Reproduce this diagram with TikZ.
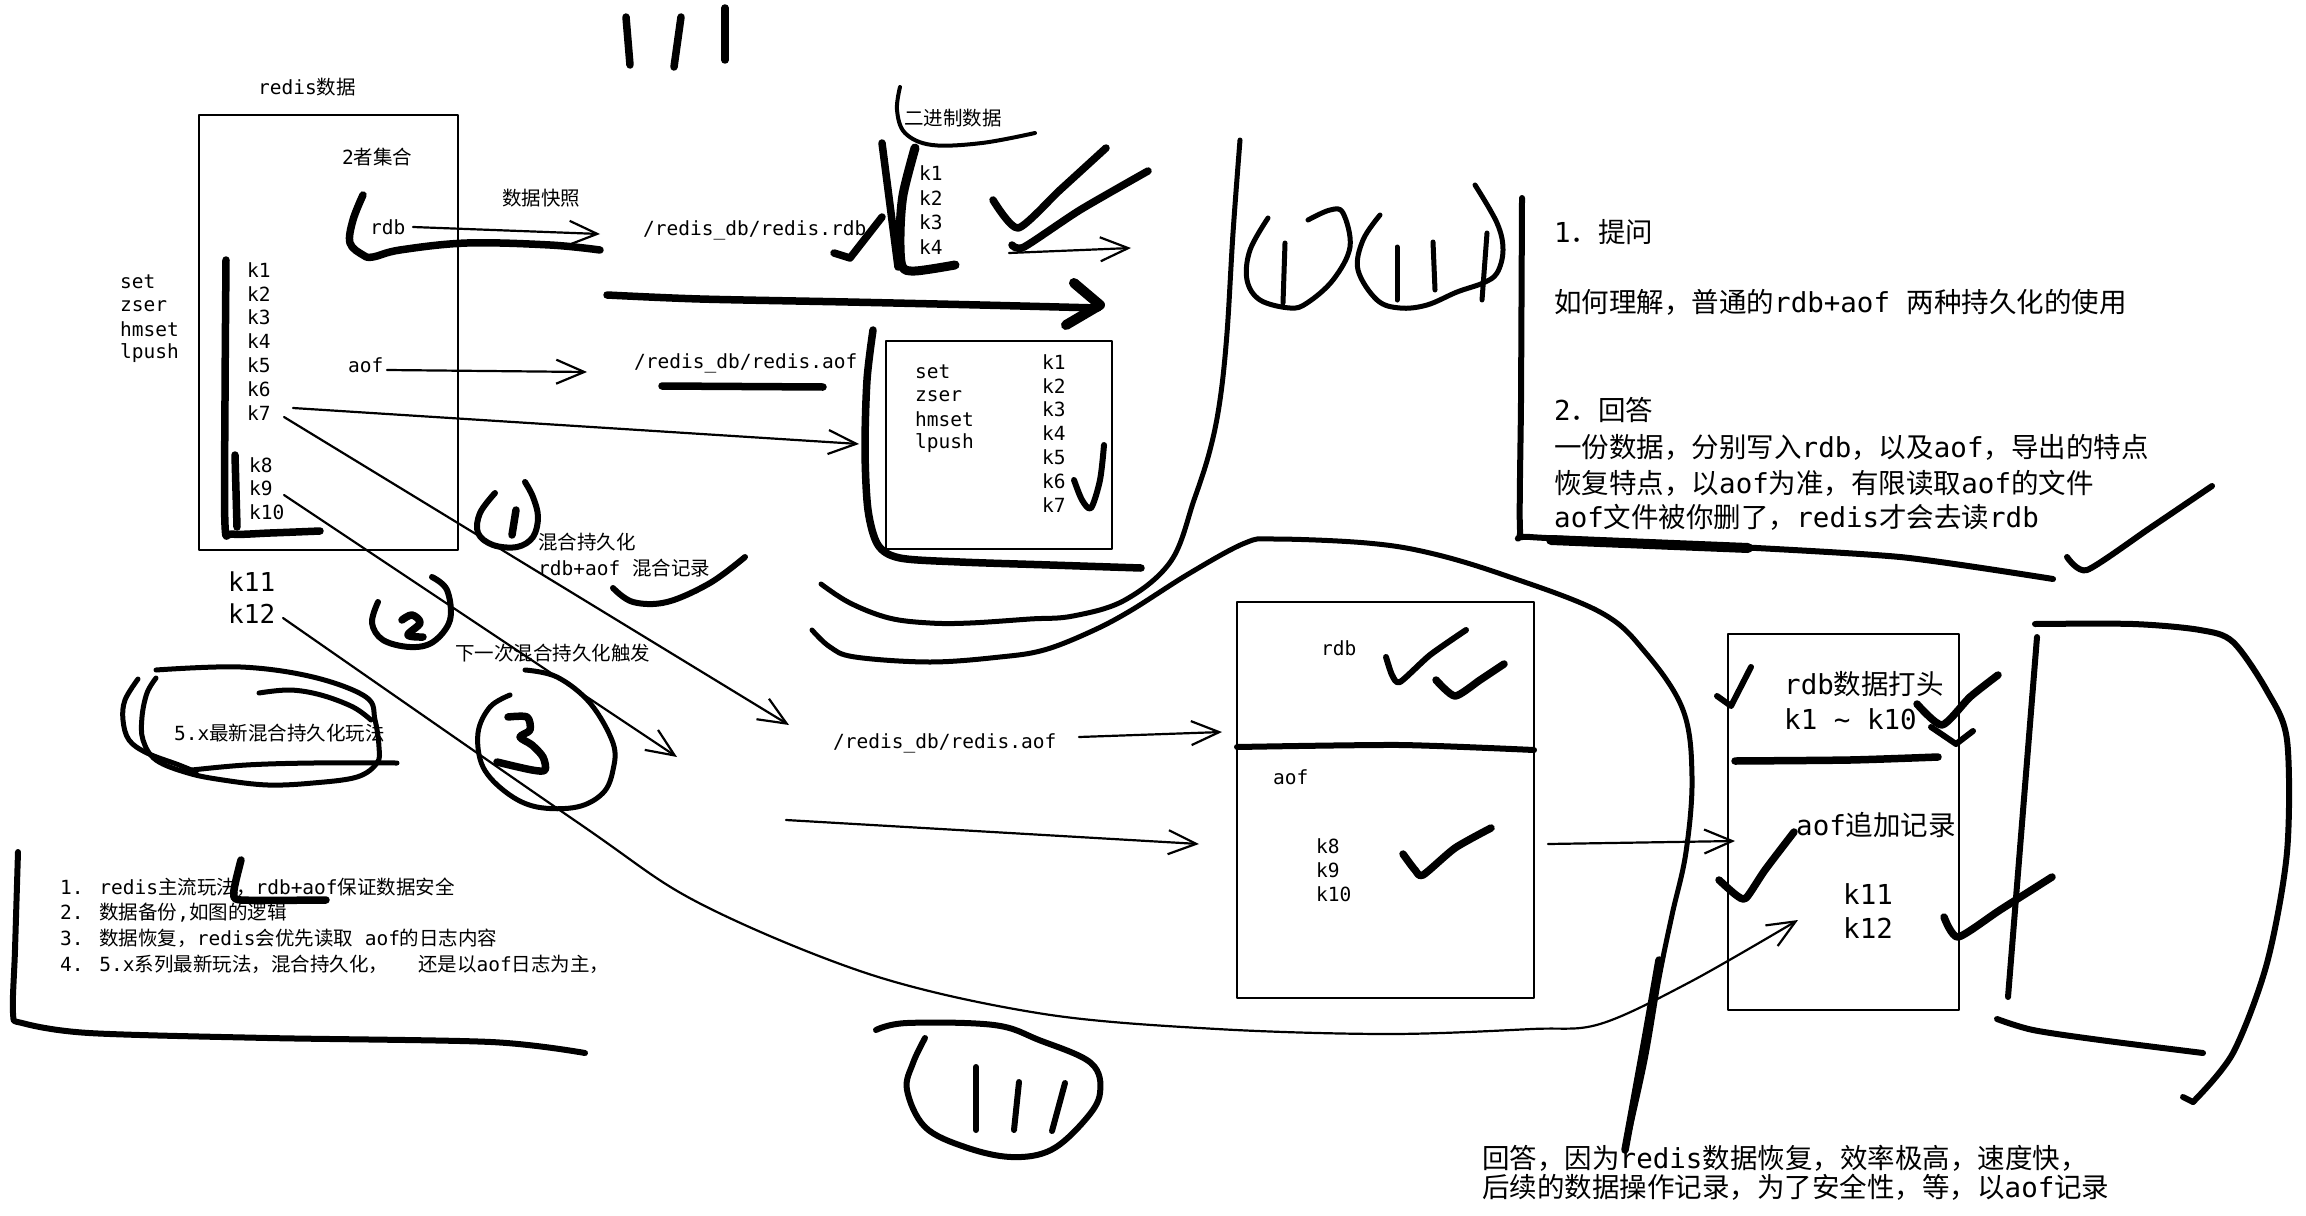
\documentclass[tikz,border=0pt]{standalone}
\usepackage{fontspec}
\setmainfont{DejaVu Sans Mono}
\newfontfamily\cjkfont{Noto Sans CJK SC}
\newfontfamily\latfont{DejaVu Sans Mono}
\usetikzlibrary{arrows.meta}
\newcount\mycnt
\newXeTeXintercharclass\mycjkclass
\def\setcjkrange#1#2{\mycnt=#1 \loop\XeTeXcharclass\mycnt=\mycjkclass \ifnum\mycnt<#2 \advance\mycnt by 1 \repeat}
\setcjkrange{"3000}{"303F}
\setcjkrange{"4E00}{"9FFF}
\setcjkrange{"FF00}{"FFEF}
\XeTeXinterchartokenstate=1
\XeTeXinterchartoks 0 \mycjkclass = {\cjkfont}
\XeTeXinterchartoks 4095 \mycjkclass = {\cjkfont}
\XeTeXinterchartoks \mycjkclass 0 = {\latfont}
\XeTeXinterchartoks \mycjkclass 4095 = {\latfont}
\begin{document}
\begin{tikzpicture}[x=1pt,y=-1pt,line cap=round,line join=round,
 thin/.style={line width=2.2pt},
 boxl/.style={line width=2.8pt},
 pen/.style={line width=5pt},
 penb/.style={line width=7.5pt},
 penc/.style={line width=10pt},
 barb/.style={-{Straight Barb[length=28pt,width=24pt]}},
 ts/.style={inner sep=0pt,anchor=west,font=\fontsize{19.5}{23}\selectfont},
 tk/.style={inner sep=0pt,anchor=west,font=\fontsize{26}{30}\selectfont},
 tl/.style={inner sep=0pt,anchor=west,font=\fontsize{27.5}{32}\selectfont}]
\useasboundingbox[fill=white] (0,0) rectangle (2306,1215);

% ---------- left box ----------
\draw[boxl] (199,115) rectangle (458,550);
\node[ts] (tRedis) at (258,87) {redis数据};
\node[ts] (t2z) at (342,157) {2者集合};
\node[ts] (tSnap) at (502,198) {数据快照};
\node[ts] (tRdb) at (370,227) {rdb};
\node[ts] (tAof) at (348,365) {aof};
\foreach \k [count=\i from 0] in {k1,k2,k3,k4,k5,k6,k7}
  \node[ts] (ka\i) at (247,{270+23.8*\i}) {\k};
\foreach \k [count=\i from 0] in {k8,k9,k10}
  \node[ts] (kb\i) at (249,{465+23.5*\i}) {\k};
\foreach \k [count=\i from 0] in {set,zser,hmset,lpush}
  \node[ts] (cmdA\i) at (120,{282+23.7*\i}) {\k};
\node[tk] (k11) at (228,582) {k11};
\node[tk] (k12) at (228,614) {k12};

\draw[penb] plot[smooth,tension=0.6] coordinates {(363,195) (353,220) (350,243) (363,255) (373,257) (400,250) (467,243) (550,245) (600,250)};
\draw[penb] plot[smooth,tension=0.5] coordinates {(226,260) (225,400) (225,525) (232,534) (270,533) (320,531)};
\draw[penb] (235,455) -- (237,527);

% ---------- top marks ----------
\draw[penb] (626,17) -- (630,65);
\draw[penb] (681,17) -- (674,67);
\draw[penb] (725,8) -- (725,60);

% ---------- rdb file ----------
\node[ts] (pRdb) at (643,230) {/redis\_db/redis.rdb};
\node[ts] (tBin) at (904,118) {二进制数据};
\foreach \k [count=\i from 0] in {k1,k2,k3,k4}
  \node[ts] (kc\i) at (919,{173+24.6*\i}) {\k};
\draw[line width=4pt] plot[smooth,tension=0.6] coordinates {(900,87) (897,110) (905,133) (932,145) (982,143) (1035,133)};
\draw[penb] (834,253) -- (850,258) -- (882,217);
\draw[penb] (882,143) -- (898,267);
\draw[line width=9pt] plot[smooth,tension=0.5] coordinates {(915,148) (903,195) (900,235) (902,266) (915,271) (955,265)};
\draw[penb] plot[smooth,tension=0.4] coordinates {(993,200) (1018,228) (1060,190) (1106,148)};
\draw[penb] plot[smooth,tension=0.4] coordinates {(1012,245) (1024,247) (1080,210) (1148,171)};
\coordinate (eSmall) at (1131,248);
\draw[thin,barb] (1009,253) -- (eSmall);
\draw[penb] plot[smooth,tension=0.5] coordinates {(607,295) (700,299) (848,302) (980,305) (1098,308)};
\draw[penc] (1074,283) -- (1100,305) -- (1066,325);

\coordinate (eRdb) at (600,234);
\draw[thin,barb] (413,227) -- (eRdb);
\coordinate (eAof) at (587,372);
\draw[thin,barb] (387,370) -- (eAof);

% ---------- aof file ----------
\node[ts] (pAof) at (634,363) {/redis\_db/redis.aof};
\draw[penb] (662,386) -- (823,387);
\draw[boxl] (886,341) rectangle (1112,549);
\foreach \k [count=\i from 0] in {set,zser,hmset,lpush}
  \node[ts] (cmdB\i) at (915,{372+23.7*\i}) {\k};
\foreach \k [count=\i from 0] in {k1,k2,k3,k4,k5,k6,k7}
  \node[ts] (kd\i) at (1042,{362+23.8*\i}) {\k};
\draw[penb] plot[smooth,tension=0.5] coordinates {(873,330) (867,380) (865,450) (868,510) (878,545) (900,558) (960,562) (1050,565) (1141,568)};
\draw[line width=6pt] plot[smooth,tension=0.5] coordinates {(1074,480) (1082,500) (1091,508) (1100,480) (1104,445)};

\coordinate (eK7a) at (859,444);
\draw[thin,barb] (293,408) -- (eK7a);
\coordinate (eK7b) at (789,725);
\draw[thin,barb] (284,417) -- (eK7b);
\coordinate (eK9) at (677,757);
\draw[thin,barb] (284,495) -- (eK9);

% ---------- mixed persistence notes ----------
\node[ts] (tMix1) at (538,542) {混合持久化};
\node[ts] (tMix2) at (538,568) {rdb+aof 混合记录};
\node[ts] (tNext) at (455,653) {下一次混合持久化触发};
\node[ts] (t5x) at (174,733) {5.x最新混合持久化玩法};

\draw[line width=6pt] plot[smooth,tension=0.6] coordinates {(495,493) (480,513) (478,533) (493,545) (517,547) (533,537) (538,517) (533,497) (525,482)};
\draw[penb] (516,510) -- (512,535);
\draw[line width=6pt] plot[smooth,tension=0.6] coordinates {(613,588) (633,602) (667,602) (710,583) (745,557)};
\draw[line width=6pt] plot[smooth,tension=0.6] coordinates {(378,602) (372,623) (383,640) (410,647) (433,642) (450,620) (447,590) (432,577)};
\draw[penb] plot[smooth,tension=0.6] coordinates {(402,620) (412,615) (420,623) (408,635) (423,637)};
\draw[pen] plot[smooth,tension=0.6] coordinates {(525,670) (557,677) (590,703) (613,743) (613,770) (603,793) (577,807) (537,807) (507,793) (483,767) (478,733) (490,707) (510,695)};
\draw[penb] plot[smooth,tension=0.5] coordinates {(508,717) (527,717) (530,730) (520,737) (532,745) (543,757) (545,770) (532,770) (497,762)};

\draw[pen] plot[smooth,tension=0.6] coordinates {(156,670) (241,667) (313,677) (366,697) (375,720) (379,747) (377,763) (357,777) (313,783) (268,785) (223,780) (188,773) (156,760) (143,740) (142,717) (147,693) (156,678)};
\draw[pen] plot[smooth,tension=0.6] coordinates {(138,679) (125,700) (123,720) (129,740) (147,753) (179,765) (196,772)};
\draw[pen] plot[smooth,tension=0.6] coordinates {(259,693) (290,690) (321,695) (353,707) (371,720)};
\draw[pen] plot[smooth,tension=0.6] coordinates {(192,770) (246,765) (313,763) (397,763)};

% ---------- bottom-left list ----------
\node[ts] (l1) at (60,887) {1. redis主流玩法，rdb+aof保证数据安全};
\node[ts] (l2) at (60,913) {2. 数据备份,如图的逻辑};
\node[ts] (l3) at (60,938) {3. 数据恢复，redis会优先读取 aof的日志内容};
\node[ts] (l4) at (60,964) {4. 5.x系列最新玩法，混合持久化，\hspace*{30pt}还是以aof日志为主，};
\draw[penb] plot[smooth,tension=0.4] coordinates {(241,860) (236,880) (234,893) (241,900) (326,900)};
\draw[line width=6pt] plot[smooth,tension=0.5] coordinates {(18,852) (15,950) (13,1013) (22,1023) (89,1033) (268,1038) (491,1042) (585,1053)};

% ---------- arcs and lasso ----------
\draw[pen] plot[smooth,tension=0.6] coordinates {(821,584) (850,603) (889,618) (930,623) (970,623) (1030,619) (1073,616) (1125,600) (1171,561) (1194,500) (1210,450) (1220,400) (1227,333) (1233,233) (1240,140)};
\draw[pen] plot[smooth,tension=0.6] coordinates {(812,630) (830,647) (855,657) (930,662) (1000,657) (1044,650) (1090,632) (1130,611) (1190,573) (1245,543) (1275,539) (1367,543) (1430,553) (1504,575) (1600,612) (1645,652) (1683,710) (1692,777) (1686,852) (1672,915) (1659,978) (1645,1060) (1627,1141)};
\draw[penb] plot[smooth,tension=0.5] coordinates {(1659,960) (1645,1040) (1625,1150)};

\draw[pen] plot[smooth,tension=0.6] coordinates {(1268,218) (1250,250) (1247,280) (1260,300) (1290,308) (1307,303) (1333,280) (1350,247) (1343,213) (1330,210) (1308,220)};
\draw[pen] plot[smooth,tension=0.6] coordinates {(1380,215) (1363,240) (1358,270) (1377,300) (1400,308) (1427,305) (1457,292) (1483,283) (1497,273) (1503,250) (1497,223) (1475,185)};
\draw[pen] (1285,243) -- (1283,303);
\draw[pen] (1397,247) -- (1397,300);
\draw[pen] (1433,242) -- (1435,290);
\draw[pen] (1487,233) -- (1482,300);

% ---------- k12 long curve ----------
\coordinate (eK12) at (1798,920);
\draw[thin,barb] plot[smooth,tension=0.55] coordinates {(283,618) (577,822) (699,903) (872,975) (1044,1014) (1217,1029) (1389,1034) (1532,1029) (1600,1024) (1690,982) (eK12)};

% ---------- bottom (|||) ----------
\draw[line width=6pt] plot[smooth,tension=0.6] coordinates {(876,1030) (907,1023) (994,1025) (1039,1040) (1091,1063) (1100,1093) (1085,1120) (1051,1150) (1011,1157) (965,1147) (925,1127) (907,1090) (913,1063) (925,1038)};
\draw[line width=6pt] (976,1067) -- (976,1130);
\draw[line width=6pt] (1019,1082) -- (1014,1130);
\draw[line width=6pt] (1065,1083) -- (1052,1131);

% ---------- rdb/aof mixed file ----------
\node[ts] (pAof2) at (833,743) {/redis\_db/redis.aof};
\draw[boxl] (1237,602) rectangle (1534,998);
\draw[line width=6pt] plot[smooth,tension=0.4] coordinates {(1237,747) (1400,745) (1534,750)};
\node[ts] (tRdb2) at (1321,648) {rdb};
\node[ts] (tAof2) at (1273,777) {aof};
\foreach \k [count=\i from 0] in {k8,k9,k10}
  \node[ts] (ke\i) at (1316,{846+24*\i}) {\k};
\draw[line width=6pt] plot[smooth,tension=0.4] coordinates {(1386,657) (1392,675) (1400,682) (1430,655) (1466,630)};
\draw[penb] plot[smooth,tension=0.4] coordinates {(1436,680) (1455,696) (1480,680) (1504,664)};
\draw[penb] plot[smooth,tension=0.4] coordinates {(1403,854) (1415,870) (1423,875) (1455,848) (1491,828)};
\coordinate (eMixA) at (1222,732);
\draw[thin,barb] (1079,737) -- (eMixA);
\coordinate (eMixB) at (1199,844);
\draw[thin,barb] (786,820) -- (eMixB);
\coordinate (eMixC) at (1735,841);
\draw[thin,barb] (1548,844) -- (eMixC);

% ---------- right box ----------
\draw[boxl] (1728,634) rectangle (1959,1010);
\node[tl] (rb1) at (1784,684) {rdb数据打头};
\node[tl] (rb2) at (1784,719) {k1 \textasciitilde{} k10};
\node[tl] (rb3) at (1796,825) {aof追加记录};
\node[tl] (rb4) at (1843,894) {k11};
\node[tl] (rb5) at (1843,928) {k12};
\draw[penb] plot[smooth,tension=0.4] coordinates {(1735,761) (1850,760) (1938,757)};
\draw[line width=6pt] (1717,696) -- (1731,706) -- (1751,667);
\draw[penb] plot[smooth,tension=0.4] coordinates {(1917,704) (1942,725) (1970,697) (1998,675)};
\draw[line width=6pt] (1931,727) -- (1956,744) -- (1973,731);
\draw[penb] plot[smooth,tension=0.4] coordinates {(1719,880) (1736,895) (1746,898) (1765,870) (1794,832)};
\draw[penb] plot[smooth,tension=0.4] coordinates {(1944,917) (1958,937) (2000,910) (2052,877)};

\draw[line width=6pt] plot[smooth,tension=0.5] coordinates {(2035,624) (2133,624) (2200,630) (2233,642) (2267,691) (2287,740) (2287,852) (2267,963) (2233,1053) (2193,1102)};
\draw[line width=6pt] (2193,1102) -- (2183,1097);
\draw[line width=6pt] (2037,637) -- (2008,997);
\draw[line width=6pt] plot[smooth,tension=0.5] coordinates {(1997,1019) (2033,1030) (2100,1040) (2203,1053)};

% ---------- top-right notes ----------
\node[tl] (q1) at (1554,232) {1．提问};
\node[tl] (q2) at (1554,302) {如何理解，普通的rdb+aof 两种持久化的使用};
\node[tl] (a1) at (1554,410) {2．回答};
\node[tl] (a2) at (1554,447) {一份数据，分别写入rdb，以及aof，导出的特点};
\node[tl] (a3) at (1554,483) {恢复特点，以aof为准，有限读取aof的文件};
\node[tl] (a4) at (1554,517) {aof文件被你删了，redis才会去读rdb};
\draw[line width=6pt] plot[smooth,tension=0.4] coordinates {(1522,198) (1521,400) (1520,530) (1530,537) (1700,545) (1900,557) (2053,579)};
\draw[penc] (1551,540) -- (1748,548);
\draw[line width=6pt] plot[smooth,tension=0.4] coordinates {(2067,557) (2087,570) (2150,528) (2212,486)};

% ---------- bottom-right answer ----------
\node[tl] (b1) at (1482,1158) {回答，因为redis数据恢复，效率极高，速度快，};
\node[tl] (b2) at (1482,1187) {后续的数据操作记录，为了安全性，等，以aof记录};
\end{tikzpicture}
\end{document}
